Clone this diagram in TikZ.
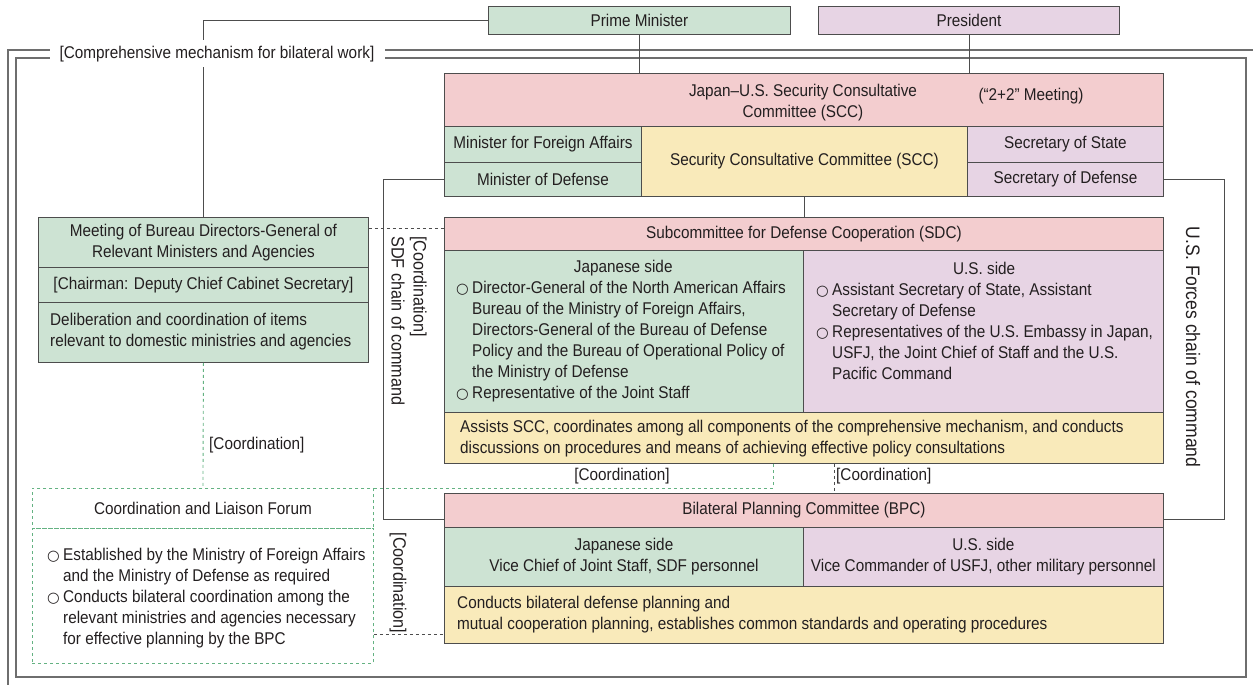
\documentclass[tikz,border=0pt]{standalone}
\usepackage{fontspec}
\setmainfont{Liberation Sans}[FakeStretch=0.9]
\newfontfamily\symfont{DejaVu Sans}

\definecolor{sccpink}{RGB}{243,205,207}
\definecolor{jpgreen}{RGB}{205,227,211}
\definecolor{uslilac}{RGB}{231,212,228}
\definecolor{roleyellow}{RGB}{249,234,186}
\definecolor{edgegray}{RGB}{77,77,77}
\definecolor{framegray}{RGB}{110,110,110}
\definecolor{dashgreen}{RGB}{100,178,130}
\definecolor{inkgray}{RGB}{35,31,32}

\newcommand{\bul}{\makebox[16pt][l]{\symfont\fontsize{14.5}{14.5}\selectfont ○}}
\newcommand{\cont}{\hspace*{16pt}}

\begin{document}
\begin{tikzpicture}[x=1pt, y=-1pt,
      font=\fontsize{17}{21}\selectfont,
      cell/.style   = {draw=edgegray, line width=0.9pt, inner sep=0pt, anchor=north west,
                       align=center, text=inkgray},
      pinkcell/.style   = {cell, fill=sccpink},
      greencell/.style  = {cell, fill=jpgreen},
      lilaccell/.style  = {cell, fill=uslilac},
      yellowcell/.style = {cell, fill=roleyellow},
      forumcell/.style  = {cell, draw=dashgreen, dash pattern=on 3pt off 3pt},
      wh/.style 2 args  = {minimum width=#1, minimum height=#2},
      txt/.style    = {inner sep=0pt, text=inkgray, align=left},
      sidetxt/.style = {txt, rotate=-90, font=\fontsize{18}{22}\selectfont},
      link/.style   = {draw=edgegray, line width=0.9pt},
      coord/.style  = {link, dash pattern=on 3pt off 3pt},
      greenlink/.style = {draw=dashgreen, line width=0.9pt, dash pattern=on 3pt off 3pt},
      frame/.style  = {draw=framegray, line width=1.1pt}]
    \useasboundingbox (0,0) rectangle (1253,685);
    % heads of government
    \node[greencell, wh={302}{28}] (pm)   at (488,6) {Prime Minister};
    \node[lilaccell, wh={301}{28}] (pres) at (818,6) {President};
    % SCC ("2+2")
    \node[pinkcell, wh={719}{53}] (scc) at (444,73) {};
    \node[txt, align=center] (scctitle) at (803,103) {Japan–U.S. Security Consultative\\Committee (SCC)};
    \node[txt] (twoplustwo) at (1031,96) {(“2+2” Meeting)};
    \node[greencell, wh={197}{36}]  (mofa) at (444,126) {Minister for Foreign Affairs};
    \node[greencell, wh={197}{34}]  (mod)  at (444,162) {Minister of Defense};
    \node[yellowcell, wh={326}{70}] (sccy) at (641,126) {Security Consultative Committee (SCC)};
    \node[lilaccell, wh={196}{36}]  (sos)  at (967,126) {Secretary of State};
    \node[lilaccell, wh={196}{34}]  (sod)  at (967,162) {Secretary of Defense};
    % SDC
    \node[pinkcell, wh={719}{33}]   (sdc)     at (444,217) {Subcommittee for Defense Cooperation (SDC)};
    \node[greencell, wh={359}{162}] (sdcjp)   at (444,250) {};
    \node[lilaccell, wh={360}{162}] (sdcus)   at (803,250) {};
    \node[yellowcell, wh={719}{51}] (sdcrole) at (444,412) {};
    \node[txt, anchor=west] (sdcjptext) at (456,331) {\makebox[334pt][c]{Japanese side}\\
      \bul Director-General of the North American Affairs\\
      \cont Bureau of the Ministry of Foreign Affairs,\\
      \cont Directors-General of the Bureau of Defense\\
      \cont Policy and the Bureau of Operational Policy of\\
      \cont the Ministry of Defense\\
      \bul Representative of the Joint Staff};
    \node[txt, anchor=west] (sdcustext) at (816,321) {\makebox[336pt][c]{U.S. side}\\
      \bul Assistant Secretary of State, Assistant\\
      \cont Secretary of Defense\\
      \bul Representatives of the U.S. Embassy in Japan,\\
      \cont USFJ, the Joint Chief of Staff and the U.S.\\
      \cont Pacific Command};
    \node[txt, anchor=west] (sdcroletext) at (460,439) {Assists SCC, coordinates among all components of the comprehensive mechanism, and conducts\\
      discussions on procedures and means of achieving effective policy consultations};
    % BPC
    \node[pinkcell, wh={719}{34}]   (bpc)     at (444,493) {Bilateral Planning Committee (BPC)};
    \node[greencell, wh={359}{59}]  (bpcjp)   at (444,527) {Japanese side\\Vice Chief of Joint Staff, SDF personnel};
    \node[lilaccell, wh={360}{59}]  (bpcus)   at (803,527) {U.S. side\\Vice Commander of USFJ, other military personnel};
    \node[yellowcell, wh={719}{57}] (bpcrole) at (444,586) {};
    \node[txt, anchor=west] (bpcroletext) at (457,615) {Conducts bilateral defense planning and\\
      mutual cooperation planning, establishes common standards and operating procedures};
    % domestic side: meeting of directors-general and the forum
    \node[greencell, wh={330}{50}] (meet)  at (38,217) {Meeting of Bureau Directors-General of\\Relevant Ministers and Agencies};
    \node[greencell, wh={330}{35}] (chair) at (38,267) {[Chairman: Deputy Chief Cabinet Secretary]};
    \node[greencell, wh={330}{60}] (delib) at (38,302) {};
    \node[txt, anchor=west] (delibtext) at (50,332) {Deliberation and coordination of items\\relevant to domestic ministries and agencies};
    \node[forumcell, wh={341}{40}]  (forum)     at (32,488) {Coordination and Liaison Forum};
    \node[forumcell, wh={341}{135}] (forumbody) at (32,528) {};
    \node[txt, anchor=west] (forumtext) at (47,598) {\bul Established by the Ministry of Foreign Affairs\\
      \cont and the Ministry of Defense as required\\
      \bul Conducts bilateral coordination among the\\
      \cont relevant ministries and agencies necessary\\
      \cont for effective planning by the BPC};
    % frame of the comprehensive mechanism
    \draw[frame] (1253,50) -- (8,50) -- (8,685);
    \draw[frame] (16,58) rectangle (1246,677);
    % solid links
    \draw[link] (pm.west) -| (meet.north);
    \draw[link] (pm.south) -- (pm.south |- scc.north);
    \draw[link] (pres.south) -- (pres.south |- scc.north);
    \draw[link] (sccy.south) -- (sccy.south |- sdc.north);
    \draw[link] (mod.west) -- ++(-61,0) |- ([yshift=8pt]bpc.south west);
    \draw[link] (sod.east) -- ++(61,0) |- ([yshift=8pt]bpc.south east);
    % coordination links
    \draw[coord] ([yshift=-11pt]meet.north east) -- ([yshift=-11pt]sdc.north west);
    \draw[greenlink] (delib.south) -- (forum.north);
    \draw[greenlink] (forum.north east) -| ([xshift=329pt]sdcrole.south west);
    \draw[coord] ([xshift=390pt]sdcrole.south west) -- ([xshift=390pt]bpc.north west);
    \draw[coord] ([yshift=29pt]forumbody.south east) -- ([yshift=9pt]bpcrole.south west);
    % labels
    \node[txt, fill=white, minimum width=335, minimum height=27] (mech) at (217,54) {[Comprehensive mechanism for bilateral work]};
    \node[txt, anchor=west] (coordA) at (209,445) {[Coordination]};
    \node[txt] (coordB) at (622,476) {[Coordination]};
    \node[txt, anchor=west] (coordC) at (836,476) {[Coordination]};
    \node[sidetxt] (coordD) at (398,583) {[Coordination]};
    \node[sidetxt, anchor=west] (sdfchain) at (409,236) {[Coordination]\\SDF chain of command};
    \node[sidetxt, font=\fontsize{19.5}{22}\selectfont] (usfchain) at (1193,347) {U.S. Forces chain of command};
  \end{tikzpicture}
\end{document}
